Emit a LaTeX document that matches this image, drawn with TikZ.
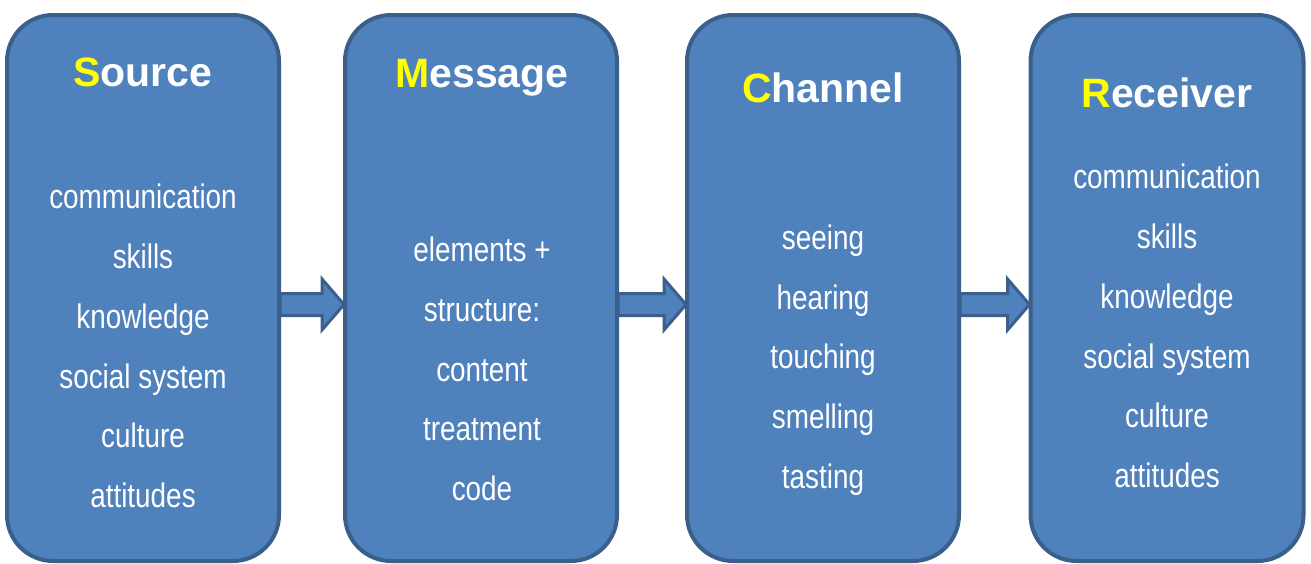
\documentclass[tikz,border=0pt]{standalone}
\usepackage{fontspec}
\setmainfont{Liberation Sans}
\newfontfamily\narrowfont[FakeStretch=0.82]{Liberation Sans}
\usetikzlibrary{calc}
\definecolor{boxfill}{HTML}{4F81BD}
\definecolor{boxline}{HTML}{3A5F8B}
\definecolor{hiyellow}{HTML}{FFFF00}
\tikzset{
  stagebox/.style={draw=boxline, fill=boxfill, line width=4pt, rounded corners=46pt,
    minimum width=272pt, minimum height=546pt, inner sep=0pt},
  titletext/.style={text=white, font=\fontsize{41}{44}\selectfont\bfseries, inner sep=0pt},
  bodytext/.style={text=white, font=\narrowfont\fontsize{34}{59.8}\selectfont, align=center, inner sep=0pt},
  blockarrow/.style={draw=boxline, fill=boxfill, line width=3pt, line join=miter}
}
\newcommand{\hl}[1]{\textcolor{hiyellow}{#1}}
\begin{document}
\begin{tikzpicture}[x=1pt,y=-1pt]
\useasboundingbox (0,0) rectangle (1311,563);
% boxes
\node[stagebox] (src) at (143,288) {};
\node[stagebox] (msg) at (481,288) {};
\node[stagebox] (chn) at (823,288) {};
\node[stagebox, minimum width=273pt] (rcv) at (1167,288) {};
% titles
\node[titletext] (srct) at (143,72) {\hl{S}ource};
\node[titletext] (msgt) at (482,78) {\hl{M}essage};
\node[titletext] (chnt) at (823,88) {\hl{C}hannel};
\node[titletext] (rcvt) at (1167,93) {\hl{R}eceiver};
% bodies
\node[bodytext] (srcb) at (143,346) {communication\\skills\\knowledge\\social system\\culture\\attitudes};
\node[bodytext] (msgb) at (482,369) {elements +\\structure:\\content\\treatment\\code};
\node[bodytext] (chnb) at (823,360) {seeing\\hearing\\touching\\smelling\\tasting};
\node[bodytext] (rcvb) at (1167,326) {communication\\skills\\knowledge\\social system\\culture\\attitudes};
% arrows
\foreach \a/\b in {src/msg, msg/chn, chn/rcv}{
  \path[blockarrow] let \p1=(\a.east), \p2=(\b.west) in
    (\x1-1,304.5-11) -- (\x2-21,304.5-11) -- (\x2-21,304.5-25.5) -- (\x2+1,304.5)
    -- (\x2-21,304.5+25.5) -- (\x2-21,304.5+11) -- (\x1-1,304.5+11) -- cycle;
}
\end{tikzpicture}
\end{document}
